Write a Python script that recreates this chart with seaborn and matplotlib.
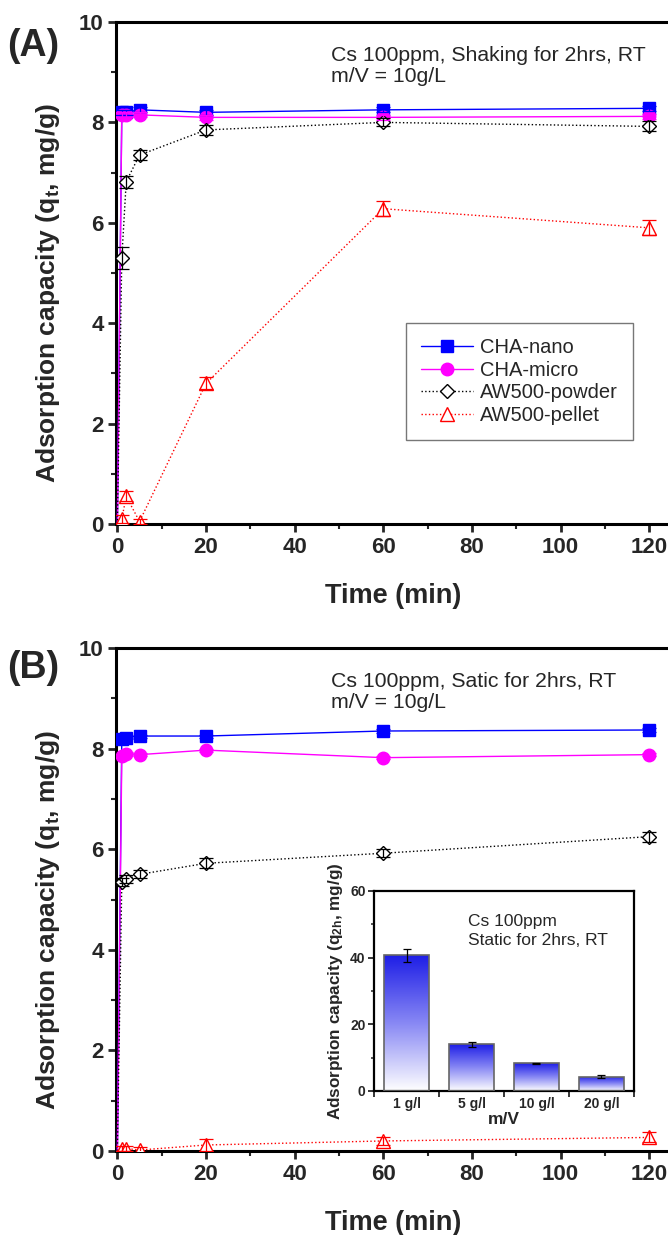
import numpy as np
import pandas as pd
import matplotlib
matplotlib.use("Agg")
import matplotlib.pyplot as plt
from matplotlib.ticker import MultipleLocator, FixedLocator
from matplotlib.colors import LinearSegmentedColormap
import seaborn as sns

sns.set_style("ticks")
plt.rcParams['font.family'] = ['Liberation Sans', 'DejaVu Sans']
plt.rcParams['mathtext.fontset'] = 'custom'
plt.rcParams['mathtext.rm'] = 'Liberation Sans'
plt.rcParams['mathtext.bf'] = 'Liberation Sans:bold'
plt.rcParams['mathtext.it'] = 'Liberation Sans:italic'

# ---------------- data ----------------
time = [0, 1, 2, 5, 20, 60, 120]
series_names = ["CHA-nano", "CHA-micro", "AW500-powder", "AW500-pellet"]

# Panel A (shaking)
a_nano = [0, 8.20, 8.20, 8.25, 8.20, 8.25, 8.28]
a_micro = [0, 8.15, 8.15, 8.15, 8.10, 8.10, 8.12]
a_powder = [0, 5.30, 6.82, 7.35, 7.85, 8.00, 7.92]
a_pellet = [0, 0.10, 0.55, 0.05, 2.80, 6.28, 5.90]
a_nano_err = [0, 0.05, 0.05, 0.05, 0.05, 0.05, 0.05]
a_micro_err = [0, 0.05, 0.05, 0.05, 0.05, 0.05, 0.05]
a_powder_err = [0, 0.22, 0.12, 0.10, 0.10, 0.08, 0.10]
a_pellet_err = [0, 0.08, 0.10, 0.05, 0.12, 0.15, 0.15]

# Panel B (static)
b_nano = [0, 8.20, 8.22, 8.25, 8.25, 8.35, 8.37]
b_micro = [0, 7.85, 7.90, 7.88, 7.97, 7.82, 7.88]
b_powder = [0, 5.35, 5.40, 5.50, 5.72, 5.92, 6.25]
b_pellet = [0, 0.05, 0.05, 0.02, 0.12, 0.20, 0.27]
b_nano_err = [0, 0.03, 0.03, 0.03, 0.03, 0.03, 0.03]
b_micro_err = [0, 0.03, 0.03, 0.03, 0.03, 0.03, 0.03]
b_powder_err = [0, 0.08, 0.08, 0.08, 0.10, 0.08, 0.10]
b_pellet_err = [0, 0.05, 0.05, 0.05, 0.12, 0.08, 0.10]

# Inset
inset_cats = ["1 g/l", "5 g/l", "10 g/l", "20 g/l"]
inset_vals = [40.7, 14.0, 8.3, 4.3]
inset_err = [2.0, 0.7, 0.1, 0.4]

colors = ["#0000FF", "#FF00FF", "#000000", "#FF0000"]
markers = ["s", "o", "D", "^"]
lstyles = ["-", "-", ":", ":"]
mfcs = ["#0000FF", "#FF00FF", "white", "white"]
msizes = [8, 9, 7.5, 10]

fig = plt.figure(figsize=(6.68, 12.35), dpi=100)
axA = fig.add_axes([0.1737, 0.5757, 0.83, 0.4065])
axB = fig.add_axes([0.1737, 0.0680, 0.83, 0.4073])


def draw_panel(ax, ys, errs, note):
    for name, y, e, c, m, ls, mfc, ms in zip(series_names, ys, errs, colors,
                                              markers, lstyles, mfcs, msizes):
        df = pd.DataFrame({"t": time, "q": y})
        sns.lineplot(data=df, x="t", y="q", ax=ax, color=c, linestyle=ls,
                     linewidth=1.0, marker=m, markersize=ms,
                     markerfacecolor=mfc, markeredgecolor=c,
                     markeredgewidth=1.0, markevery=slice(1, None),
                     errorbar=None, label=name, zorder=3)
        ax.errorbar(time[1:], y[1:], yerr=e[1:], fmt="none", ecolor=c,
                    elinewidth=0.9, capsize=5, capthick=0.9, zorder=4)
    ax.set_xlim(-0.3, 124.8)
    ax.set_ylim(0, 10)
    ax.xaxis.set_major_locator(MultipleLocator(20))
    ax.xaxis.set_minor_locator(MultipleLocator(10))
    ax.yaxis.set_major_locator(MultipleLocator(2))
    ax.yaxis.set_minor_locator(MultipleLocator(1))
    ax.tick_params(which="major", direction="out", length=6, width=2,
                   labelsize=16, pad=3)
    ax.tick_params(which="minor", direction="out", length=3.5, width=1.5)
    for lab in ax.get_xticklabels() + ax.get_yticklabels():
        lab.set_fontweight("bold")
    for s in ["left", "bottom", "top"]:
        ax.spines[s].set_linewidth(2.2)
        ax.spines[s].set_color("black")
    ax.spines["right"].set_visible(False)
    ax.set_xlabel("Time (min)", fontsize=19.5, fontweight="bold", labelpad=18)
    ax.set_ylabel(r"Adsorption capacity ($\mathbf{q}_{\mathbf{t}}$, mg/g)",
                  fontsize=19, fontweight="bold")
    ax.yaxis.set_label_coords(-0.097, 0.46)
    ax.text(0.388, 0.952, note, transform=ax.transAxes, fontsize=15.3,
            va="top", ha="left", linespacing=1.15)


draw_panel(axA, [a_nano, a_micro, a_powder, a_pellet],
           [a_nano_err, a_micro_err, a_powder_err, a_pellet_err],
           "Cs 100ppm, Shaking for 2hrs, RT\nm/V = 10g/L")
draw_panel(axB, [b_nano, b_micro, b_powder, b_pellet],
           [b_nano_err, b_micro_err, b_powder_err, b_pellet_err],
           "Cs 100ppm, Satic for 2hrs, RT\nm/V = 10g/L")

leg = axA.legend(loc="lower right", bbox_to_anchor=(0.933, 0.167),
                 fontsize=14.5, frameon=True, fancybox=False, handlelength=2.6,
                 handletextpad=0.35, borderpad=0.75, labelspacing=0.18,
                 borderaxespad=0)
leg.get_frame().set_edgecolor("#555555")
leg.get_frame().set_linewidth(1.0)
if axB.get_legend() is not None:
    axB.get_legend().remove()

fig.text(0.010, 0.963, "(A)", fontsize=27, fontweight="bold", va="center")
fig.text(0.010, 0.459, "(B)", fontsize=27, fontweight="bold", va="center")

# ---------------- inset ----------------
axI = fig.add_axes([0.56, 0.1166, 0.389, 0.162])
idf = pd.DataFrame({"mv": inset_cats, "q": inset_vals})
sns.barplot(data=idf, x="mv", y="q", ax=axI, width=0.69, color="white",
            edgecolor="#666666", linewidth=1.2, errorbar=None, zorder=2)
axI.errorbar(range(len(inset_cats)), inset_vals, yerr=inset_err, fmt="none",
             ecolor="black", elinewidth=0.9, capsize=3, capthick=0.9,
             zorder=5)
cmap = LinearSegmentedColormap.from_list("bw", ["#FFFFFF", "#8888F4", "#1E1EE6"])
grad = np.linspace(0, 1, 256).reshape(-1, 1)
for p in axI.patches:
    x0, y0 = p.get_x(), p.get_y()
    w, h = p.get_width(), p.get_height()
    im = axI.imshow(grad, extent=[x0, x0 + w, y0, y0 + h], origin="lower",
                    aspect="auto", cmap=cmap, zorder=2.5)
    im.set_clip_path(p)
    p.set_facecolor("none")
    p.set_zorder(3)
axI.set_xlim(-0.5, 3.5)
axI.set_ylim(0, 60)
axI.yaxis.set_major_locator(MultipleLocator(20))
axI.yaxis.set_minor_locator(MultipleLocator(10))
axI.xaxis.set_minor_locator(FixedLocator([-0.5, 0.5, 1.5, 2.5, 3.5]))
axI.tick_params(which="major", direction="out", length=4, width=1.3,
                labelsize=10, pad=2)
axI.tick_params(which="minor", direction="out", length=2.5, width=1.1)
axI.tick_params(axis="x", which="major", length=0, pad=4)
axI.tick_params(axis="x", which="minor", length=4, width=1.3)
for lab in axI.get_xticklabels() + axI.get_yticklabels():
    lab.set_fontweight("bold")
for s in axI.spines.values():
    s.set_linewidth(1.6)
    s.set_color("black")
axI.set_xlabel("m/V", fontsize=12.5, fontweight="bold", labelpad=1)
axI.set_ylabel(r"Adsorption capacity ($\mathbf{q}_{\mathbf{2h}}$, mg/g)",
               fontsize=12.3, fontweight="bold", labelpad=4)
axI.text(0.36, 0.885, "Cs 100ppm\nStatic for 2hrs, RT", transform=axI.transAxes,
         fontsize=12.5, va="top", ha="left", linespacing=1.3)

fig.savefig("out.png", dpi=100)
